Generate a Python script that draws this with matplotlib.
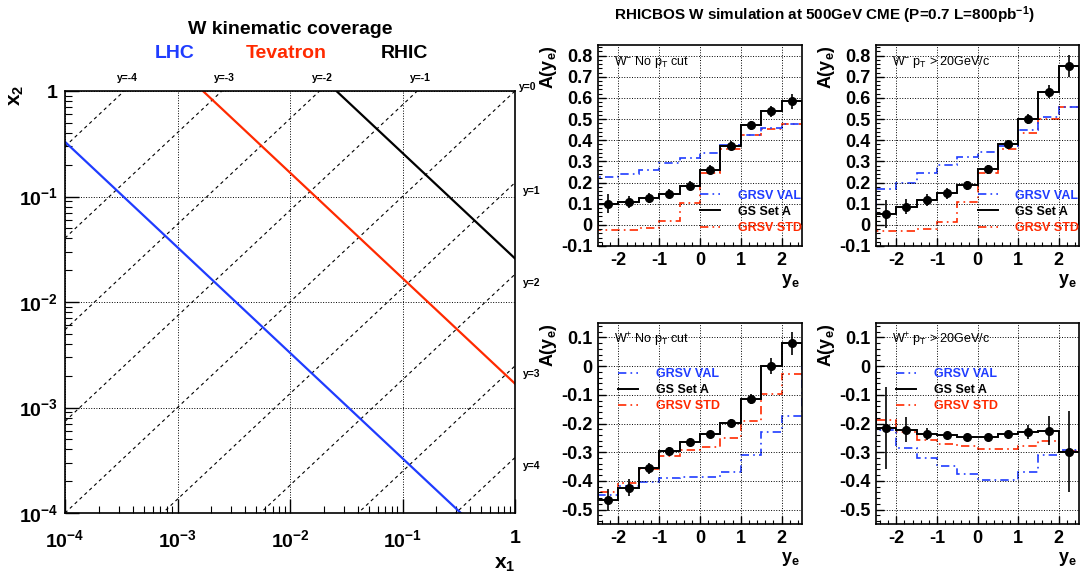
import matplotlib
matplotlib.use("Agg")
import matplotlib.pyplot as plt
import numpy as np
from matplotlib.lines import Line2D
from matplotlib.ticker import MultipleLocator, LogLocator, NullFormatter, FuncFormatter

plt.rcParams["font.family"] = ["Liberation Sans", "DejaVu Sans"]
plt.rcParams["font.weight"] = "bold"
plt.rcParams["axes.labelweight"] = "bold"
plt.rcParams["mathtext.default"] = "regular"
plt.rcParams["axes.unicode_minus"] = False

# ---- left panel data: W kinematic coverage
mw = 80.4
colliders = ["LHC", "Tevatron", "RHIC"]
sqrt_s = [14000.0, 1960.0, 500.0]
rapidities = [-4, -3, -2, -1, 0, 1, 2, 3, 4]

# ---- right panels data: A(y_e) in 10 bins of y_e
bin_edges = [-2.5, -2.0, -1.5, -1.0, -0.5, 0.0, 0.5, 1.0, 1.5, 2.0, 2.5]

wm_nocut_gs = [0.100, 0.108, 0.127, 0.148, 0.185, 0.261, 0.374, 0.470, 0.536, 0.583]
wm_nocut_err = [0.045, 0.028, 0.022, 0.020, 0.020, 0.020, 0.020, 0.020, 0.025, 0.035]
wm_nocut_val = [0.226, 0.238, 0.260, 0.293, 0.318, 0.340, 0.376, 0.424, 0.458, 0.475]
wm_nocut_std = [-0.025, -0.025, -0.016, 0.016, 0.103, 0.245, 0.358, 0.424, 0.455, 0.475]

wm_pt_gs = [0.052, 0.085, 0.117, 0.149, 0.187, 0.262, 0.381, 0.500, 0.630, 0.750]
wm_pt_err = [0.066, 0.035, 0.030, 0.025, 0.022, 0.022, 0.022, 0.022, 0.030, 0.052]
wm_pt_val = [0.170, 0.200, 0.243, 0.285, 0.320, 0.344, 0.375, 0.446, 0.510, 0.556]
wm_pt_std = [-0.030, -0.027, -0.020, 0.015, 0.108, 0.244, 0.360, 0.432, 0.500, 0.556]

wp_nocut_gs = [-0.466, -0.423, -0.356, -0.296, -0.264, -0.238, -0.198, -0.115, 0.000, 0.080]
wp_nocut_err = [0.037, 0.029, 0.020, 0.015, 0.013, 0.013, 0.013, 0.017, 0.027, 0.040]
wp_nocut_val = [-0.450, -0.417, -0.403, -0.390, -0.388, -0.388, -0.368, -0.310, -0.230, -0.173]
wp_nocut_std = [-0.440, -0.408, -0.357, -0.313, -0.293, -0.281, -0.252, -0.190, -0.097, -0.029]

wp_pt_gs = [-0.215, -0.221, -0.237, -0.240, -0.247, -0.247, -0.238, -0.230, -0.225, -0.298]
wp_pt_err = [0.143, 0.045, 0.020, 0.012, 0.010, 0.010, 0.012, 0.025, 0.050, 0.140]
wp_pt_val = [-0.223, -0.285, -0.319, -0.348, -0.377, -0.396, -0.396, -0.368, -0.311, -0.293]
wp_pt_std = [-0.189, -0.230, -0.256, -0.270, -0.279, -0.288, -0.288, -0.279, -0.262, -0.296]

legend_labels = ["GRSV VAL", "GS Set A", "GRSV STD"]

blue = "#1f3cff"
red = "#ff2a00"
dashdot = (0, (5, 2.5, 1, 2.5))

W, H = 1085, 573
fig = plt.figure(figsize=(W / 100, H / 100), dpi=100)


def px_axes(x0, y0, x1, y1):
    return fig.add_axes([x0 / W, 1 - y1 / H, (x1 - x0) / W, (y1 - y0) / H])


# ================= left panel =================
ax = px_axes(65, 91, 515, 513)
ax.set_xscale("log")
ax.set_yscale("log")
ax.set_xlim(1e-4, 1)
ax.set_ylim(1e-4, 1)

xx = np.array([1e-4, 1.0])
for rap in rapidities:
    ax.plot(xx, xx * np.exp(-2 * rap), color="k", lw=0.8, ls=(0, (3, 3)))
    if rap < 0:
        ax.annotate("y=%d" % rap, (np.exp(2 * rap), 1), xytext=(2, 6), textcoords="offset points",
                    ha="center", va="bottom", fontsize=7.5, annotation_clip=False)
    elif rap == 0:
        ax.annotate("y=0", (1, 1), xytext=(3, 3), textcoords="offset points",
                    ha="left", va="center", fontsize=7.5, annotation_clip=False)
    else:
        ax.annotate("y=%d" % rap, (1, np.exp(-2 * rap)), xytext=(6, -6), textcoords="offset points",
                    ha="left", va="center", fontsize=7.5, annotation_clip=False)

line_colors = [blue, red, "k"]
for name, rs, c in zip(colliders, sqrt_s, line_colors):
    tau = (mw / rs) ** 2
    x1 = np.array([tau, 1.0])
    ax.plot(x1, tau / x1, color=c, lw=1.6)

decades = [1e-4, 1e-3, 1e-2, 1e-1, 1]
dec_labels = ["$10^{-4}$", "$10^{-3}$", "$10^{-2}$", "$10^{-1}$", "1"]
ax.set_xticks(decades, dec_labels)
ax.set_yticks(decades, dec_labels)
for axis in (ax.xaxis, ax.yaxis):
    axis.set_minor_locator(LogLocator(base=10, subs=range(2, 10)))
    axis.set_minor_formatter(NullFormatter())
ax.tick_params(which="major", direction="in", length=10, width=1, labelsize=14, top=False, right=False)
ax.tick_params(axis="x", which="major", pad=12)
ax.tick_params(axis="y", which="major", pad=5)
ax.tick_params(which="minor", direction="in", length=5, width=0.8, top=False, right=False)
ax.grid(True, which="major", ls=":", color="k", lw=0.7)
for sp in ax.spines.values():
    sp.set_linewidth(1.2)
ax.set_xlabel("x$_{1}$", fontsize=15, loc="right")
ax.xaxis.set_label_coords(1.0, -0.10)
ax.xaxis.label.set_va("top")
ax.set_ylabel("x$_{2}$", fontsize=15, loc="top")
ax.yaxis.set_label_coords(-0.087, 1.015)

fig.text(290 / W, 1 - 30 / H, "W kinematic coverage", ha="center", va="center", fontsize=14)
for name, xc, c in zip(colliders, [175, 286, 404], line_colors):
    fig.text(xc / W, 1 - 54 / H, name, ha="center", va="center", fontsize=14, color=c)

# ================= right panels =================
fig.text(824 / W, 1 - 15 / H, "RHICBOS W simulation at 500GeV CME (P=0.7 L=800pb$^{-1}$)",
         ha="center", va="center", fontsize=11)

edges = np.array(bin_edges)
centers = 0.5 * (edges[:-1] + edges[1:])

panels = [
    ((598, 45, 802, 246), wm_nocut_gs, wm_nocut_err, wm_nocut_val, wm_nocut_std,
     "W$^{-}$ No p$_{T}$ cut", (-0.1, 0.85), (0.5, 0.28)),
    ((876, 45, 1079, 246), wm_pt_gs, wm_pt_err, wm_pt_val, wm_pt_std,
     "W$^{-}$ p$_{T}$ > 20GeV/c", (-0.1, 0.85), (0.5, 0.28)),
    ((598, 323, 802, 524), wp_nocut_gs, wp_nocut_err, wp_nocut_val, wp_nocut_std,
     "W$^{+}$ No p$_{T}$ cut", (-0.55, 0.15), (0.1, 0.775)),
    ((876, 323, 1079, 524), wp_pt_gs, wp_pt_err, wp_pt_val, wp_pt_std,
     "W$^{+}$ p$_{T}$ > 20GeV/c", (-0.55, 0.15), (0.1, 0.775)),
]

for box, gs, err, val, std, label, ylim, leg_anchor in panels:
    ax = px_axes(*box)
    ax.stairs(std, edges, baseline=0, color=red, lw=1.2, ls=dashdot)
    ax.stairs(val, edges, baseline=0, color=blue, lw=1.2, ls=dashdot)
    ax.stairs(gs, edges, baseline=0, color="k", lw=1.4)
    ax.errorbar(centers, gs, yerr=err, fmt="o", color="k", ms=5.5, elinewidth=1.2, capsize=0)

    ax.set_xlim(-2.5, 2.5)
    ax.set_ylim(*ylim)
    ax.xaxis.set_major_locator(MultipleLocator(1))
    ax.xaxis.set_minor_locator(MultipleLocator(0.2))
    ax.yaxis.set_major_locator(MultipleLocator(0.1))
    ax.yaxis.set_minor_locator(MultipleLocator(0.02))
    ax.xaxis.set_major_formatter(FuncFormatter(lambda v, p: "%g" % round(v, 2)))
    ax.yaxis.set_major_formatter(FuncFormatter(lambda v, p: "%g" % round(v, 2)))
    ax.tick_params(which="major", direction="in", length=6, width=1, labelsize=13, top=False, right=False, pad=4)
    ax.tick_params(which="minor", direction="in", length=3, width=0.8, top=False, right=False)
    ax.grid(True, which="major", ls=":", color="k", lw=0.7)
    for sp in ax.spines.values():
        sp.set_linewidth(1.2)

    ax.set_ylabel("A(y$_{e}$)", fontsize=13, loc="top")
    ax.yaxis.set_label_coords(-0.19, 1.0)
    ax.set_xlabel("y$_{e}$", fontsize=13, loc="right")
    ax.xaxis.set_label_coords(0.99, -0.13)
    ax.xaxis.label.set_va("top")

    ax.text(0.078, 0.915, label, transform=ax.transAxes, fontsize=9, weight="normal", va="center")

    handles = [Line2D([], [], color=blue, ls=dashdot, lw=1.2),
               Line2D([], [], color="k", lw=1.4),
               Line2D([], [], color=red, ls=dashdot, lw=1.2)]
    ax.legend(handles, legend_labels, loc="upper left", bbox_to_anchor=leg_anchor, frameon=False,
              prop={"size": 9, "weight": "bold"}, handlelength=1.6, handletextpad=1.4,
              labelspacing=0.33, borderpad=0, borderaxespad=0, labelcolor=[blue, "k", red])

fig.savefig("out.png", dpi=100)
